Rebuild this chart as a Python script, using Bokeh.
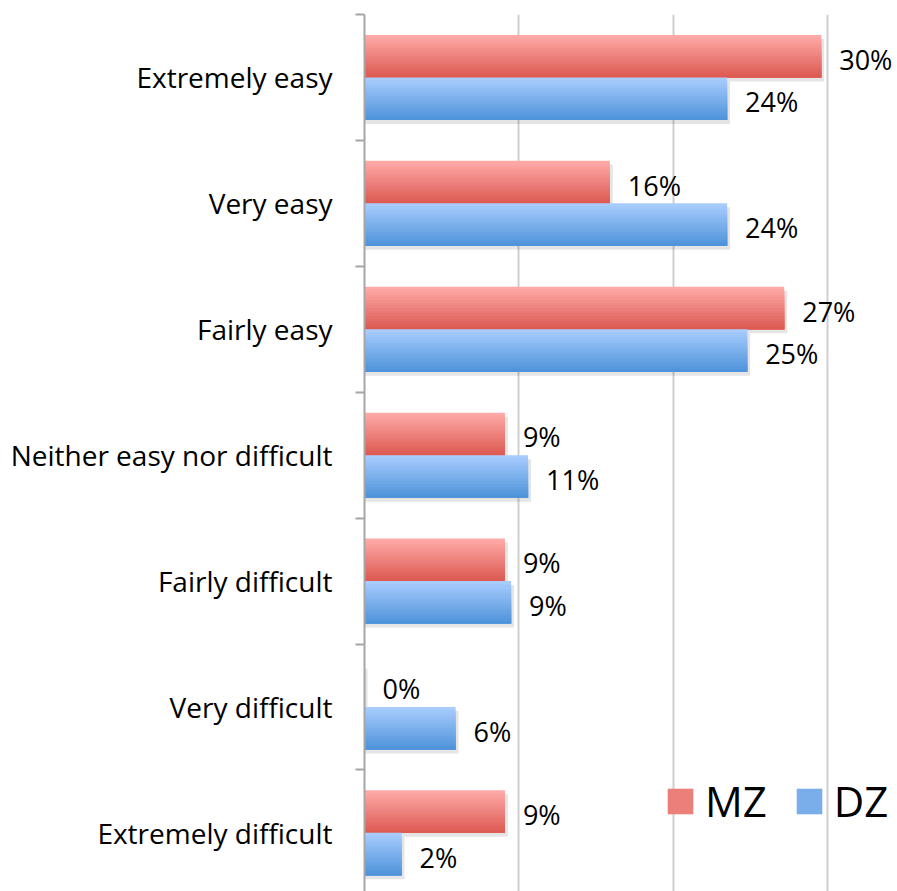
from bokeh.plotting import figure
from bokeh.models import ColumnDataSource, Range1d, FixedTicker, Legend, LegendItem
from bokeh.core.properties import value
from bokeh.transform import dodge
from bokeh.embed import file_html
from bokeh.resources import INLINE

# ---- data (top to bottom) ----
categories = ["Extremely easy", "Very easy", "Fairly easy", "Neither easy nor difficult",
              "Fairly difficult", "Very difficult", "Extremely difficult"]
mz_values = [29.6, 15.9, 27.2, 9.1, 9.1, 0.0, 9.1]
dz_values = [23.5, 23.5, 24.8, 10.6, 9.5, 5.9, 2.4]
mz_labels = ["30%", "16%", "27%", "9%", "9%", "0%", "9%"]
dz_labels = ["24%", "24%", "25%", "11%", "9%", "6%", "2%"]
series_names = ["MZ", "DZ"]

n = len(categories)
ypos = [n - 1 - i for i in range(n)]
src = ColumnDataSource(dict(y=ypos, mz=mz_values, dz=dz_values,
                            mzl=mz_labels, dzl=dz_labels))

# ---- style ----
FONT = "Open Sans"
W, H = 897, 891
LEFT, TOP = 364, 14
PX_Y = 125.9          # pixels per category band
PX_X = 15.43          # pixels per percent
BAR_H = 42.5 / PX_Y   # bar height in band units
MZ_TOP, MZ_BOT = "#FFACAA", "#DC5850"
DZ_TOP, DZ_BOT = "#ABCEFF", "#4C92D9"


def lerp(c1, c2, t):
    a = [int(c1[i:i + 2], 16) for i in (1, 3, 5)]
    b = [int(c2[i:i + 2], 16) for i in (1, 3, 5)]
    return "#%02x%02x%02x" % tuple(round(a[k] + (b[k] - a[k]) * t) for k in range(3))


p = figure(width=W, height=H, output_backend="svg", toolbar_location=None,
           x_range=Range1d(0, (W - LEFT) / PX_X),
           y_range=Range1d(6.5 - (H - TOP) / PX_Y, 6.5),
           min_border_left=LEFT, min_border_right=0, min_border_top=TOP, min_border_bottom=0)
p.outline_line_color = None
p.background_fill_color = "white"
p.border_fill_color = "white"

# grid
p.xaxis.visible = False
p.xgrid.ticker = FixedTicker(ticks=[10, 20, 30])
p.xgrid.grid_line_color = "#CFCFCF"
p.xgrid.grid_line_width = 2
p.ygrid.visible = False

# y axis: labels at centres, ticks at band boundaries
yax = p.yaxis[0]
yax.ticker = FixedTicker(ticks=ypos, minor_ticks=[v + 0.5 for v in range(-1, n)])
yax.major_label_overrides = {ypos[i]: categories[i] for i in range(n)}
yax.axis_line_color = "#A6A6A6"
yax.axis_line_width = 2
yax.major_tick_line_color = None
yax.major_tick_out = 0
yax.major_tick_in = 0
yax.minor_tick_line_color = "#A6A6A6"
yax.minor_tick_line_width = 2
yax.minor_tick_out = 9
yax.minor_tick_in = 0
yax.major_label_standoff = 23
yax.major_label_text_font = FONT
yax.major_label_text_font_size = "28px"
yax.major_label_text_color = "black"

series = (("mz", BAR_H / 2, MZ_TOP, MZ_BOT), ("dz", -BAR_H / 2, DZ_TOP, DZ_BOT))

# soft shadows
for field, center, top, bot in series:
    p.hbar(y=dodge("y", center - 4 / PX_Y, range=p.y_range), left=0,
           right=dodge(field, 3 / PX_X), height=BAR_H, source=src,
           fill_color="black", fill_alpha=0.10, line_color=None)

# bars with vertical gradient: each slice runs from its top to the bar bottom
NS = 16
legend_r = {}
for field, center, top, bot in series:
    sh = BAR_H / NS
    bar_top = center + BAR_H / 2
    bar_bot = center - BAR_H / 2
    for k in range(NS):
        s_top = bar_top - k * sh
        r = p.hbar(y=dodge("y", (s_top + bar_bot) / 2, range=p.y_range), left=0, right=field,
                   height=s_top - bar_bot, fill_color=lerp(top, bot, (k + 0.5) / NS),
                   line_color=None, source=src)
        if k == NS // 2:
            legend_r[field] = r

# value labels
for field, lab, center in (("mz", "mzl", BAR_H / 2), ("dz", "dzl", -BAR_H / 2)):
    p.text(x=field, y=dodge("y", center, range=p.y_range), text=lab, source=src,
           x_offset=18, y_offset=3, text_baseline="middle", text_align="left",
           text_font=value(FONT), text_font_size="27px", text_color="black")

legend = Legend(items=[LegendItem(label=series_names[0], renderers=[legend_r["mz"]]),
                       LegendItem(label=series_names[1], renderers=[legend_r["dz"]])],
                orientation="horizontal", location=(300, 62),
                glyph_width=32, glyph_height=32, label_standoff=9, spacing=26,
                padding=0, margin=0, border_line_color=None, background_fill_alpha=0,
                label_text_font=FONT, label_text_font_size="42px", label_text_color="black")
p.add_layout(legend)

open("out.html", "w").write(file_html(p, INLINE))
